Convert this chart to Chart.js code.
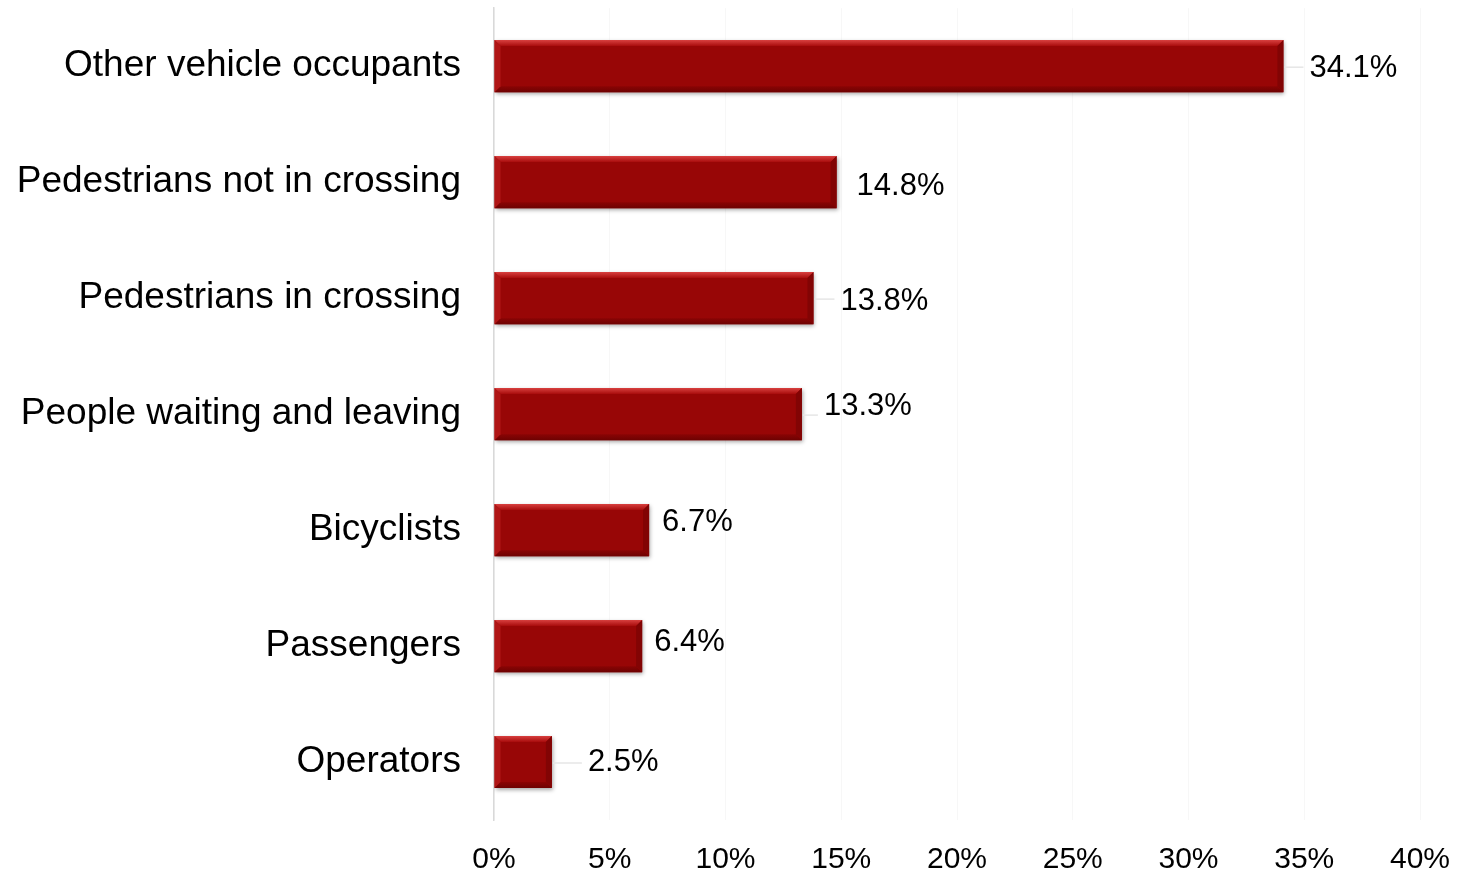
<!DOCTYPE html>
<html>
<head>
<meta charset="utf-8">
<script src="https://cdn.jsdelivr.net/npm/chart.js@4"></script>
<style>
  html, body { margin: 0; padding: 0; background: #fff; }
  canvas { display: block; }
</style>
</head>
<body>
<canvas id="myChart1" width="1463" height="873"></canvas>
<script>
// setup
const categories = [
  'Other vehicle occupants',
  'Pedestrians not in crossing',
  'Pedestrians in crossing',
  'People waiting and leaving',
  'Bicyclists',
  'Passengers',
  'Operators'
];
const shares = [34.1, 14.8, 13.8, 13.3, 6.7, 6.4, 2.5];
const tickValues = [0, 5, 10, 15, 20, 25, 30, 35, 40];

// hand-placed label nudges (px) relative to the end of each bar
const labelDx = [26, 20, 27, 22, 13, 12, 36];
const labelDy = [2, 4, 3, -8, -8, -4, 0];

const FONT = "'Liberation Sans', Arial, sans-serif";

// bevelled look for the bars: drop shadow + light top edge + dark bottom edge
const bevelBars = {
  id: 'bevelBars',
  beforeDatasetsDraw(chart) {
    const ctx = chart.ctx;
    ctx.save();
    ctx.shadowColor = 'rgba(0,0,0,0.35)';
    ctx.shadowBlur = 4;
    ctx.shadowOffsetX = 1;
    ctx.shadowOffsetY = 2;
  },
  afterDatasetsDraw(chart) {
    const ctx = chart.ctx;
    ctx.restore();
    const meta = chart.getDatasetMeta(0);
    meta.data.forEach(bar => {
      const left = bar.base, right = bar.x;
      const top = bar.y - bar.height / 2, bottom = bar.y + bar.height / 2;
      const b = 6;
      ctx.save();
      // top edge
      let g = ctx.createLinearGradient(0, top, 0, top + b);
      g.addColorStop(0, '#d8403f');
      g.addColorStop(1, '#a80c0c');
      ctx.fillStyle = g;
      ctx.beginPath();
      ctx.moveTo(left, top);
      ctx.lineTo(right, top);
      ctx.lineTo(right - b, top + b);
      ctx.lineTo(left + b, top + b);
      ctx.closePath();
      ctx.fill();
      // bottom edge
      g = ctx.createLinearGradient(0, bottom - b, 0, bottom);
      g.addColorStop(0, '#8a0404');
      g.addColorStop(1, '#6e0202');
      ctx.fillStyle = g;
      ctx.beginPath();
      ctx.moveTo(left, bottom);
      ctx.lineTo(right, bottom);
      ctx.lineTo(right - b, bottom - b);
      ctx.lineTo(left + b, bottom - b);
      ctx.closePath();
      ctx.fill();
      // right edge
      ctx.fillStyle = '#820404';
      ctx.beginPath();
      ctx.moveTo(right, top);
      ctx.lineTo(right, bottom);
      ctx.lineTo(right - b, bottom - b);
      ctx.lineTo(right - b, top + b);
      ctx.closePath();
      ctx.fill();
      // left edge
      ctx.fillStyle = '#b01616';
      ctx.beginPath();
      ctx.moveTo(left, top);
      ctx.lineTo(left, bottom);
      ctx.lineTo(left + b, bottom - b);
      ctx.lineTo(left + b, top + b);
      ctx.closePath();
      ctx.fill();
      ctx.restore();
    });
  }
};

// value labels with short leader lines
const valueLabels = {
  id: 'valueLabels',
  afterDatasetsDraw(chart) {
    const ctx = chart.ctx;
    const meta = chart.getDatasetMeta(0);
    ctx.save();
    ctx.font = '31px ' + FONT;
    ctx.textBaseline = 'middle';
    ctx.textAlign = 'left';
    meta.data.forEach((bar, i) => {
      const x = bar.x + labelDx[i];
      const y = bar.y + labelDy[i];
      if (labelDx[i] > 20) {
        ctx.strokeStyle = '#e6e6e6';
        ctx.lineWidth = 1.5;
        ctx.beginPath();
        ctx.moveTo(bar.x + 1, bar.y + 1);
        ctx.lineTo(x - 6, bar.y + 1);
        ctx.stroke();
      }
      ctx.fillStyle = '#000';
      ctx.fillText(shares[i].toFixed(1) + '%', x, y);
    });
    ctx.restore();
  }
};

const data = {
  labels: categories,
  datasets: [{
    data: shares,
    backgroundColor: '#980606',
    borderWidth: 0,
    barPercentage: 0.45,
    categoryPercentage: 1
  }]
};

// config
const config = {
  type: 'bar',
  data,
  options: {
    indexAxis: 'y',
    responsive: false,
    animation: false,
    layout: { padding: { top: 8, right: 43, bottom: 0, left: 0 } },
    plugins: {
      legend: { display: false },
      tooltip: { enabled: false }
    },
    scales: {
      x: {
        min: 0,
        max: 40,
        afterBuildTicks(scale) {
          scale.ticks = tickValues.map(v => ({ value: v }));
        },
        afterFit(scale) { scale.height = 53; },
        grid: { color: '#f7f7f7', lineWidth: 1, drawTicks: true, tickLength: 12, tickColor: 'rgba(0,0,0,0)' },
        border: { display: false },
        ticks: {
          padding: 10,
          color: '#000',
          font: { family: FONT, size: 30 },
          maxRotation: 0,
          callback: v => v + '%'
        }
      },
      y: {
        afterFit(scale) { scale.width = 494; },
        // invisible tick marks keep the labels off the axis
        grid: { display: true, drawOnChartArea: false, drawTicks: true, tickLength: 47, color: 'rgba(0,0,0,0)' },
        border: { display: true, color: '#d9d9d9', width: 1.5 },
        ticks: {
          padding: -14,
          color: '#000',
          font: { family: FONT, size: 37 }
        }
      }
    }
  },
  plugins: [bevelBars, valueLabels]
};

// render init block
const myChart = new Chart(
  document.getElementById('myChart1'),
  config
);
</script>
</body>
</html>
